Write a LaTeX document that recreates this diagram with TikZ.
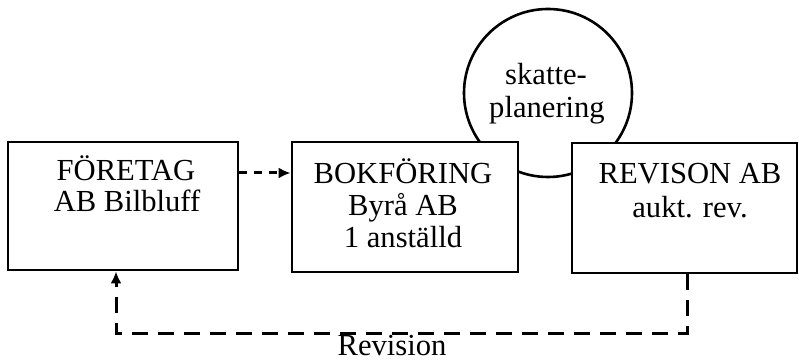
\documentclass[tikz,border=0pt]{standalone}
\usepackage{fontspec}
\setmainfont{Liberation Serif}
\usetikzlibrary{arrows.meta}
\begin{document}
\begin{tikzpicture}[x=0.5pt,y=-0.5pt,
  box/.style={draw,fill=white,line width=1.4pt,rectangle,inner sep=0pt},
  lbl/.style={font=\fontsize{15.3}{16.5}\selectfont,inner sep=0pt,anchor=base},
  dshort/.style={line width=1.5pt,dash pattern=on 4pt off 3.5pt},
  dlong/.style={line width=1.5pt,dash pattern=on 8pt off 5pt},
  tip/.style={-{Latex[length=6pt,width=5.5pt]}}]
\useasboundingbox (0,0) rectangle (799,362);
% circle behind the boxes
\node[circle,draw,line width=1.3pt,minimum size=84pt,inner sep=0pt] (circ) at (548,93) {};
\node[lbl] (c1) at (546,85) {skatte-};
\node[lbl] (c2) at (547,118) {planering};
% boxes
\node[box,minimum width=115pt,minimum height=64pt] (b1) at (123,206) {};
\node[box,minimum width=113pt,minimum height=65pt] (b2) at (405,207) {};
\node[box,minimum width=112.5pt,minimum height=65pt] (b3) at (684.5,208) {};
% box texts
\node[lbl] (t11) at (126,181) {FÖRETAG};
\node[lbl] (t12) at (127,212) {AB Bilbluff};
\node[lbl] (t21) at (403,184) {BOKFÖRING};
\node[lbl] (t22) at (403,216) {Byrå AB};
\node[lbl] (t23) at (403,248) {1 anställd};
\node[lbl] (t31) at (690,184) {REVISON AB};
\node[lbl] (t32) at (690,218) {aukt. rev.};
\node[lbl] (rev) at (392,356) {Revision};
% connectors
\draw[dshort,tip] ([yshift=16.5pt]b1.east) -- ([yshift=17pt]b2.west);
\draw[dlong,tip] ([xshift=1.25pt]b3.south) -- ++(0,59) -| ([xshift=-3.5pt]b1.south);
\end{tikzpicture}
\end{document}
